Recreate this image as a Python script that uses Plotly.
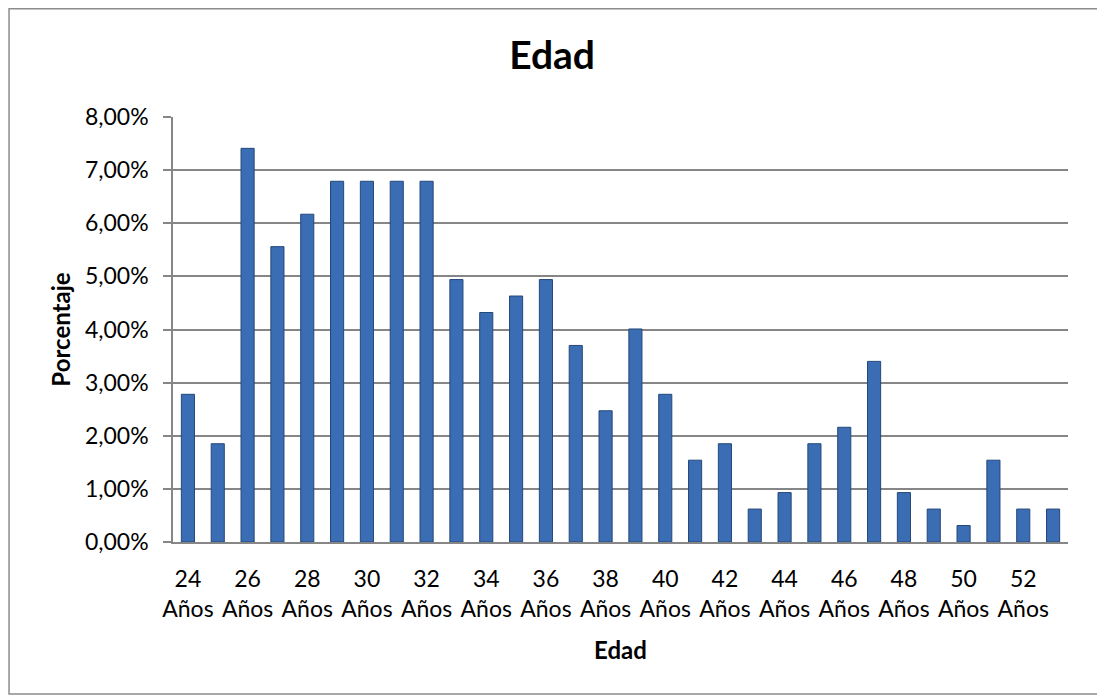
import plotly.graph_objects as go

edades = [str(e) + " Años" for e in range(24, 54)]
porcentajes = [
    2.78, 1.85, 7.41, 5.56, 6.17, 6.79, 6.79, 6.79, 6.79, 4.94,
    4.32, 4.63, 4.94, 3.70, 2.47, 4.01, 2.78, 1.54, 1.85, 0.62,
    0.93, 1.85, 2.16, 3.40, 0.93, 0.62, 0.31, 1.54, 0.62, 0.62,
]
etiquetas_x = edades[::2]
textos_x = [e.replace(" ", "<br>") for e in etiquetas_x]

fuente = "Lato, Carlito, 'Open Sans', sans-serif"

# la página deja 8 px de margen, por eso el lienzo es algo menor
fig = go.Figure(
    go.Bar(
        x=edades,
        y=porcentajes,
        marker=dict(color="#3A6DB3", line=dict(color="#24487A", width=1)),
    )
)

fig.update_layout(
    width=1097,
    height=688,
    paper_bgcolor="white",
    plot_bgcolor="white",
    separators=",.",
    bargap=0.56,
    showlegend=False,
    margin=dict(l=165, r=37, t=109, b=154),
    font=dict(family=fuente, size=23, color="black"),
    title=dict(
        text="<b>Edad</b>",
        x=0.496,
        xref="container",
        xanchor="center",
        y=0.9317,
        yref="container",
        yanchor="middle",
        font=dict(size=39, family=fuente),
    ),
    shapes=[
        dict(
            type="rect",
            xref="paper",
            yref="paper",
            x0=-0.1832,
            x1=1.0402,
            y0=-0.3576,
            y1=1.2545,
            line=dict(color="#8C8C8C", width=1.5),
            fillcolor="rgba(0,0,0,0)",
            layer="below",
        )
    ],
)

fig.update_xaxes(
    type="category",
    tickmode="array",
    tickvals=etiquetas_x,
    ticktext=textos_x,
    showline=True,
    linecolor="#868686",
    linewidth=1.5,
    ticks="",
    showgrid=False,
    ticklabelstandoff=16,
    tickfont=dict(size=23),
    title=dict(text="<b>Edad</b>", font=dict(size=24), standoff=21),
)

fig.update_yaxes(
    range=[0, 8],
    dtick=1,
    tickformat=".2f",
    ticksuffix="%",
    showline=True,
    linecolor="#868686",
    linewidth=1.5,
    showgrid=True,
    gridcolor="#868686",
    gridwidth=1.5,
    ticks="outside",
    ticklen=8,
    tickcolor="#868686",
    tickwidth=1.5,
    zeroline=False,
    ticklabelstandoff=10,
    tickfont=dict(size=23),
    title=dict(text="<b>Porcentaje</b>", font=dict(size=24), standoff=8),
)

fig.write_html("out.html")
